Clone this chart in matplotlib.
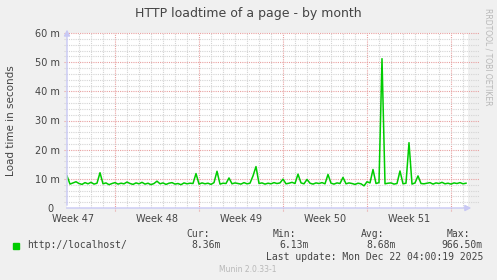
import matplotlib
matplotlib.use("Agg")
from matplotlib import pyplot as plt
import numpy as np

# data: load time (ms) sampled every 6 hours, starting 4 days before week 47 ends
load_ms = [
    11.0, 8.2, 8.6, 9.0, 8.4, 8.1, 8.7, 8.3, 8.8, 8.2, 8.5, 12.1,
    8.3, 8.6, 8.0, 8.4, 8.7, 8.2, 8.5, 8.3, 8.9, 8.4, 8.1, 8.6,
    8.3, 8.8, 8.2, 8.5, 8.0, 8.4, 9.2, 8.3, 8.6, 8.1, 8.5, 8.7,
    8.2, 8.4, 8.0, 8.6, 8.3, 8.5, 8.4, 11.8, 8.2, 8.6, 8.3, 8.5,
    8.1, 8.7, 12.6, 8.2, 8.5, 8.4, 10.3, 8.3, 8.6, 8.4, 8.2, 8.7,
    8.3, 8.5, 11.0, 14.2, 8.4, 8.6, 8.2, 8.5, 8.3, 8.7, 8.4, 8.6,
    9.9, 8.3, 8.5, 8.8, 8.4, 11.6, 8.6, 8.3, 9.8, 8.5, 8.2, 8.6,
    8.4, 8.7, 8.3, 11.5, 8.5, 8.2, 8.6, 8.4, 10.5, 8.3, 8.6, 8.4,
    8.1, 8.5, 8.3, 7.6, 9.0, 8.6, 13.2, 8.4, 8.7, 51.2, 8.3, 8.5,
    8.6, 8.2, 8.4, 12.7, 8.3, 8.5, 22.4, 8.2, 8.6, 11.0, 8.4, 8.3,
    8.5, 8.7, 8.2, 8.6, 8.4, 8.8, 8.3, 8.5, 8.2, 8.6, 8.4, 8.7,
    8.3, 8.5,
]
step_days = 0.25
week_names = ["Week 47", "Week 48", "Week 49", "Week 50", "Week 51"]
week_starts = [4, 11, 18, 25, 32]
y_ticks = [0, 10, 20, 30, 40, 50, 60]
y_labels = ["0  ", "10 m", "20 m", "30 m", "40 m", "50 m", "60 m"]

legend_label = "http://localhost/"
stats = [("Cur:", "8.36m"), ("Min:", "6.13m"), ("Avg:", "8.68m"), ("Max:", "966.50m")]
last_update = "Last update: Mon Dec 22 04:00:19 2025"

W, H = 497, 280
BG = "#F0F0F0"
TXT = "#444444"
GREEN = "#00CC00"
MINOR = "#D4D4D4"
MAJOR = "#E8A0A0"
AXIS = "#C8C8F4"

fig = plt.figure(figsize=(W / 100, H / 100), dpi=100, facecolor=BG)
x0, x1, ytop, ybot = 67, 468, 33, 208
ax = fig.add_axes([x0 / W, 1 - ybot / H, (x1 - x0) / W, (ybot - ytop) / H])
ax.set_facecolor("white")

xmax = (x1 - x0) / 12.0
ax.set_xlim(0, xmax)
ax.set_ylim(0, 60)
for s in ax.spines.values():
    s.set_visible(False)

# grid, rrdtool style (dotted, slightly overhanging)
dot = (0, (1, 1))
days = np.arange(1, int(xmax) + 1)
ax.vlines([d for d in days if d not in week_starts], 0, 60, colors=MINOR, linestyles=dot, lw=0.8)
ax.vlines(week_starts, -1.0, 60, colors=MAJOR, linestyles=dot, lw=0.8, clip_on=False)
minor_y = [v for v in range(2, 61, 2) if v % 10 != 0]
ax.hlines(minor_y, -0.25, xmax + 0.9, colors=MINOR, linestyles=dot, lw=0.8, clip_on=False)
ax.hlines(y_ticks[1:], -0.25, xmax + 0.9, colors=MAJOR, linestyles=dot, lw=0.8, clip_on=False)

x = np.arange(len(load_ms)) * step_days
ax.plot(x, load_ms, color=GREEN, lw=1.1, zorder=3)

# axes with arrows
ax.annotate("", xy=(0, 1.035), xytext=(0, 0), xycoords="axes fraction",
            arrowprops=dict(arrowstyle="-|>,head_length=0.35,head_width=0.18", color=AXIS, lw=1.0))
ax.annotate("", xy=(1.015, 0), xytext=(-0.008, 0), xycoords="axes fraction",
            arrowprops=dict(arrowstyle="-|>,head_length=0.35,head_width=0.18", color=AXIS, lw=1.0))

ax.set_yticks(y_ticks, y_labels)
ax.set_xticks([w - 3.5 for w in week_starts], week_names)
ax.tick_params(length=0, labelsize=7, labelcolor=TXT)
ax.tick_params(axis="x", pad=4)
ax.tick_params(axis="y", pad=5)
ax.set_ylabel("Load time in seconds", fontsize=7.5, color=TXT, labelpad=14)

fig.text(248 / W, 1 - 14 / H, "HTTP loadtime of a page - by month",
         ha="center", va="center", fontsize=9, color=TXT)
fig.text(488 / W, 1 - 57 / H, "RRDTOOL / TOBI OETIKER", rotation=270,
         ha="center", va="center", fontsize=5.5, color="#B8B8B8")

# legend
mono = "DejaVu Sans Mono"
fig.patches.append(plt.Rectangle((13 / W, 1 - 249 / H), 6 / W, 6 / H,
                                 transform=fig.transFigure, color=GREEN))
fig.text(27 / W, 1 - 245.5 / H, legend_label, fontsize=7, family=mono, color=TXT, va="center")
head_x = [186, 273, 361, 447]
val_x = [221, 309, 396, 483]
for (h, v), hx, vx in zip(stats, head_x, val_x):
    fig.text(hx / W, 1 - 234 / H, h, fontsize=7, family=mono, color=TXT, va="center")
    fig.text(vx / W, 1 - 245.5 / H, v, fontsize=7, family=mono, color=TXT, va="center", ha="right")
fig.text(483 / W, 1 - 257.5 / H, last_update, fontsize=7, family=mono, color=TXT, va="center", ha="right")
fig.text(248 / W, 1 - 269 / H, "Munin 2.0.33-1", fontsize=5.5, color="#B8B8B8", ha="center", va="center")

fig.savefig("out.png", dpi=100, facecolor=BG)
